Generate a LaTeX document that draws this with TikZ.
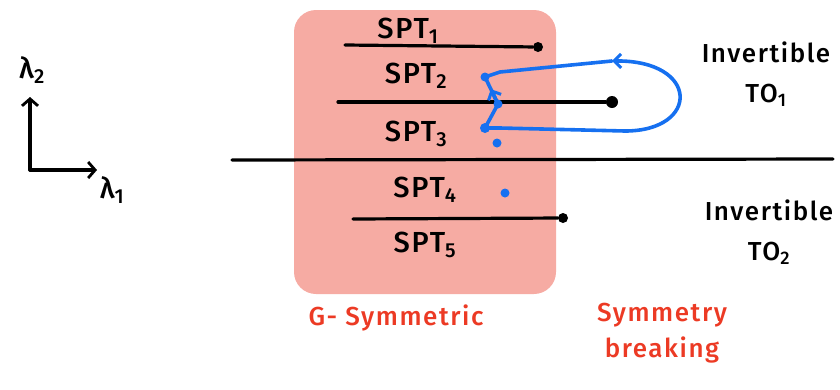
\documentclass[tikz,border=0pt]{standalone}
\usepackage{fontspec}
\setmainfont{Fira Sans Medium}[LetterSpace=6]
\usetikzlibrary{arrows.meta,calc}
\definecolor{pinkbg}{RGB}{246,171,163}
\definecolor{handblue}{RGB}{22,112,240}
\definecolor{handred}{RGB}{236,58,36}
\tikzset{
  blackline/.style={line width=3.2pt, line cap=round, black},
  bigdot/.style={circle, fill=black, inner sep=0pt, minimum size=10pt},
  bluedot/.style={circle, fill=handblue, inner sep=0pt, minimum size=9pt},
  blueline/.style={line width=3.6pt, handblue, line cap=round, line join=round},
  lbl/.style={font=\fontsize{29}{30}\selectfont, inner sep=0pt},
  redlbl/.style={font=\fontsize{26}{36}\selectfont, text=handred, inner sep=0pt, align=center},
  rlbl/.style={font=\fontsize{26}{40}\selectfont, inner sep=0pt, align=center},
  barb/.style={-{Straight Barb[length=7pt,width=14pt,line width=3pt]}}
}
\begin{document}
\begin{tikzpicture}[x=1pt,y=-1pt]
\useasboundingbox (0,0) rectangle (840,389);
% pink region
\node[fill=pinkbg, rounded corners=22pt, minimum width=262pt, minimum height=284pt, inner sep=0pt] (region) at (425,152) {};
% axes
\coordinate (origin) at (30,170);
\coordinate (ytip) at (30,97);
\coordinate (xtip) at (97,170);
\draw[blackline, -{Straight Barb[length=7pt,width=16pt,line width=2.8pt]}] (origin) -- (ytip);
\draw[blackline, -{Straight Barb[length=7pt,width=16pt,line width=2.8pt]}] (origin) -- (xtip);
\node[lbl] (lam2) at (32,70) {λ\textsubscript{2}};
\node[lbl] (lam1) at (112,190) {λ\textsubscript{1}};
% SPT labels
\node[lbl] (spt1) at (408,31) {SPT\textsubscript{1}};
\node[lbl] (spt2) at (416,76) {SPT\textsubscript{2}};
\node[lbl] (spt3) at (416,134) {SPT\textsubscript{3}};
\node[lbl] (spt4) at (425,190) {SPT\textsubscript{4}};
\node[lbl] (spt5) at (425,245) {SPT\textsubscript{5}};
% black lines
\coordinate (l1s) at (345,45);
\node[bigdot] (d1) at (538,47) {};
\draw[blackline] (l1s) -- (d1);
\coordinate (l2s) at (338,102);
\node[bigdot, minimum size=12pt] (d2) at (612,102) {};
\draw[blackline] (l2s) -- (d2);
\coordinate (hs) at (232,160);
\coordinate (he) at (833,159);
\draw[blackline] (hs) -- (he);
\coordinate (l4s) at (353,219);
\node[bigdot] (d4) at (563,218) {};
\draw[blackline] (l4s) -- (d4);
% blue dots
\node[bluedot] (b2) at (485,77) {};
\node[bluedot] (bm) at (498,104) {};
\node[bluedot, minimum size=10pt] (b3) at (485,128) {};
\node[bluedot] (b3b) at (497,143) {};
\node[bluedot] (b4) at (505,193) {};
% blue loop
\coordinate (c1) at (500,128);
\coordinate (c2) at (625,131);
\coordinate (c3) at (612,61);
\coordinate (c4) at (500,72);
\draw[blueline] (b3.center) -- (c1) -- (c2);
\draw[blueline, barb] (c2) .. controls (700,131) and (700,60) .. (c3);
\draw[blueline] (c3) -- (c4) -- (b2.center);
\draw[blueline] (b3.center) -- (bm.center) -- (b2.center);
\draw[blueline, barb] (bm.center) -- ($(bm.center)!0.55!(b2.center)$);
% right labels
\node[rlbl] (to1) at (766,74) {Invertible\\TO\textsubscript{1}};
\node[rlbl] (to2) at (769,232) {Invertible\\TO\textsubscript{2}};
% red labels
\node[redlbl] (gsym) at (396,318) {G- Symmetric};
\node[redlbl] (sbreak) at (662,333) {Symmetry\\breaking};
\end{tikzpicture}
\end{document}
